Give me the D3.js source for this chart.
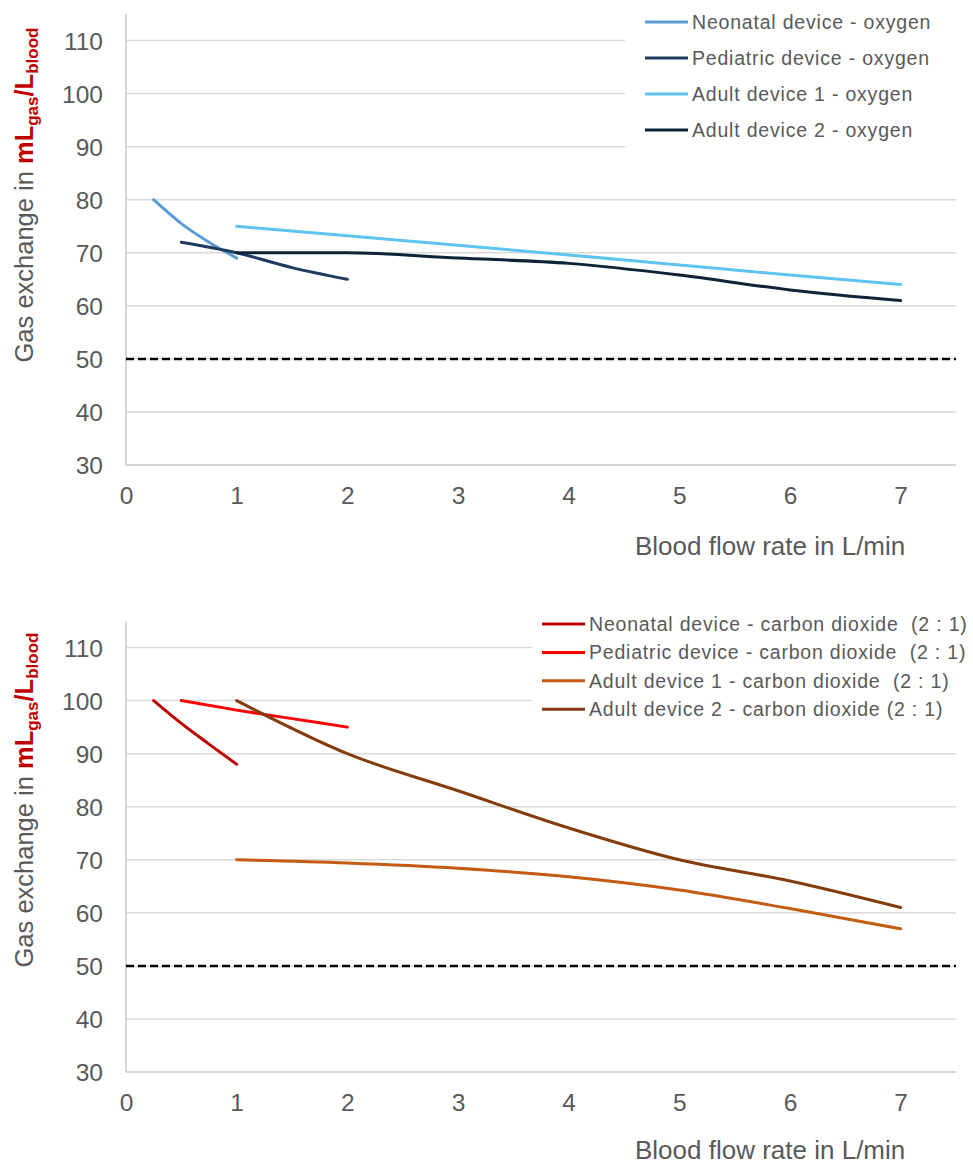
<!DOCTYPE html>
<html><head><meta charset="utf-8">
<script src="https://cdn.jsdelivr.net/npm/d3@7"></script>
<style>
html,body{margin:0;padding:0;background:#fff;}
svg{display:block;font-family:"Liberation Sans",Arial,sans-serif;}
</style></head>
<body>
<svg id="chart" width="973" height="1164"></svg>
<script>
// ---------- DATA ----------
const xTicks = [0, 1, 2, 3, 4, 5, 6, 7];
const yTicks = [30, 40, 50, 60, 70, 80, 90, 100, 110];
const thresholdValue = 50;

const neonatalX = [0.25, 0.5, 0.75, 1];
const pediatricX = [0.5, 1, 1.5, 2];
const adultX = [1, 2, 3, 4, 5, 6, 7];

const neonatalO2 = [80, 75.5, 72, 69];
const pediatricO2 = [72, 70, 67.2, 65];
const adult1O2 = [75, 73.2, 71.4, 69.6, 67.7, 65.8, 64];
const adult2O2 = [70, 70, 69, 68, 65.8, 63, 61];

const neonatalCO2 = [100, 95.7, 91.8, 88];
const pediatricCO2 = [100, 98.2, 96.6, 95];
const adult1CO2 = [70, 69.4, 68.4, 66.8, 64.3, 60.8, 57];
const adult2CO2 = [100, 90, 83, 76, 70, 66, 61];

const o2Labels = ["Neonatal device - oxygen", "Pediatric device - oxygen", "Adult device 1 - oxygen", "Adult device 2 - oxygen"];
const co2Labels = ["Neonatal device - carbon dioxide  (2 : 1)", "Pediatric device - carbon dioxide  (2 : 1)", "Adult device 1 - carbon dioxide  (2 : 1)", "Adult device 2 - carbon dioxide (2 : 1)"];
const o2Colors = ["#5B9BD5", "#1F3A5F", "#5BC4F0", "#0E2338"];
const co2Colors = ["#C00000", "#FF0000", "#C55A11", "#843C0C"];

const xTitle = "Blood flow rate in L/min";

// ---------- DRAW ----------
const svg = d3.select("#chart");
const x = d3.scaleLinear().domain([0, 7.5]).range([126, 956]);

function panel(top, bottom, seriesX, seriesY, labels, colors, legend) {
  const y = d3.scaleLinear().domain([30, 115]).range([bottom, top]);
  const g = svg.append("g");

  // gridlines
  g.append("g").selectAll("line").data(yTicks.filter(v => v > 30)).join("line")
    .attr("x1", x(0)).attr("x2", x(7.5))
    .attr("y1", d => y(d)).attr("y2", d => y(d))
    .attr("stroke", "#d9d9d9").attr("stroke-width", 1.5);

  // x-axis baseline
  g.append("line").attr("x1", x(0)).attr("x2", x(7.5)).attr("y1", y(30)).attr("y2", y(30))
    .attr("stroke", "#c8c8c8").attr("stroke-width", 1.5);
  // y-axis line
  g.append("line").attr("x1", x(0)).attr("x2", x(0)).attr("y1", y(115)).attr("y2", y(30))
    .attr("stroke", "#c8c8c8").attr("stroke-width", 1.5);

  // legend background (covers gridlines)
  g.append("rect").attr("x", legend.bx).attr("y", legend.by).attr("width", 973 - legend.bx).attr("height", legend.bh).attr("fill", "#fff");

  // y ticks
  const ya = d3.axisLeft(y).tickValues(yTicks).tickSize(0).tickPadding(23).tickFormat(d3.format("d"));
  const yg = g.append("g").attr("transform", `translate(${x(0)},0)`).call(ya);
  yg.select(".domain").remove();
  yg.selectAll("text").attr("fill", "#595959").style("font-size", "24.5px").attr("dy", "0.36em");

  // x ticks
  const xa = d3.axisBottom(x).tickValues(xTicks).tickSize(0).tickPadding(0).tickFormat(d3.format("d"));
  const xg = g.append("g").attr("transform", `translate(0,${y(30)})`).call(xa);
  xg.select(".domain").remove();
  xg.selectAll("text").attr("fill", "#595959").style("font-size", "24.5px").attr("dy", null).attr("y", 39);

  // x title
  g.append("text").attr("x", 635).attr("y", y(30) + legend.titleDy).attr("fill", "#595959")
    .style("font-size", "26px").text(xTitle);

  // y title
  const yt = g.append("text").attr("transform", `translate(33,${legend.ylabY}) rotate(-90)`)
    .attr("text-anchor", "middle").style("font-size", "25.5px");
  yt.append("tspan").attr("fill", "#595959").text("Gas exchange in ");
  yt.append("tspan").attr("fill", "#C00000").attr("font-weight", "bold").text("mL");
  yt.append("tspan").attr("fill", "#C00000").attr("font-weight", "bold").style("font-size", "17px").attr("dy", 5).text("gas");
  yt.append("tspan").attr("fill", "#C00000").attr("font-weight", "bold").attr("dy", -5).text("/L");
  yt.append("tspan").attr("fill", "#C00000").attr("font-weight", "bold").style("font-size", "17px").attr("dy", 5).text("blood");

  // threshold
  g.append("line").attr("x1", x(0)).attr("x2", x(7.5)).attr("y1", y(thresholdValue)).attr("y2", y(thresholdValue))
    .attr("stroke", "#000").attr("stroke-width", 2.5).attr("stroke-dasharray", "8,4");

  // series
  const line = d3.line().x(d => x(d[0])).y(d => y(d[1])).curve(d3.curveMonotoneX);
  seriesX.forEach((xs, i) => {
    const pts = xs.map((xv, j) => [xv, seriesY[i][j]]);
    g.append("path").datum(pts).attr("d", line).attr("fill", "none")
      .attr("stroke", colors[i]).attr("stroke-width", 3).attr("stroke-linecap", "round");
  });

  // legend
  labels.forEach((lab, i) => {
    const ly = legend.y0 + i * legend.dy;
    g.append("line").attr("x1", legend.lx).attr("x2", legend.lx + 43).attr("y1", ly).attr("y2", ly)
      .attr("stroke", colors[i]).attr("stroke-width", 3);
    g.append("text").attr("x", legend.lx + 47).attr("y", ly).attr("dy", "0.36em")
      .attr("fill", "#595959").style("font-size", "19.5px").style("letter-spacing", "0.8px")
      .attr("xml:space", "preserve").style("white-space", "pre").text(lab);
  });
}

panel(14, 465,
  [neonatalX, pediatricX, adultX, adultX],
  [neonatalO2, pediatricO2, adult1O2, adult2O2],
  o2Labels, o2Colors,
  {bx: 625, by: 8, bh: 150, lx: 645, y0: 22, dy: 36, titleDy: 90, ylabY: 195});

panel(621, 1072,
  [neonatalX, pediatricX, adultX, adultX],
  [neonatalCO2, pediatricCO2, adult1CO2, adult2CO2],
  co2Labels, co2Colors,
  {bx: 532, by: 612, bh: 110, lx: 542, y0: 624, dy: 28.4, titleDy: 87, ylabY: 800});
</script>
</body></html>
